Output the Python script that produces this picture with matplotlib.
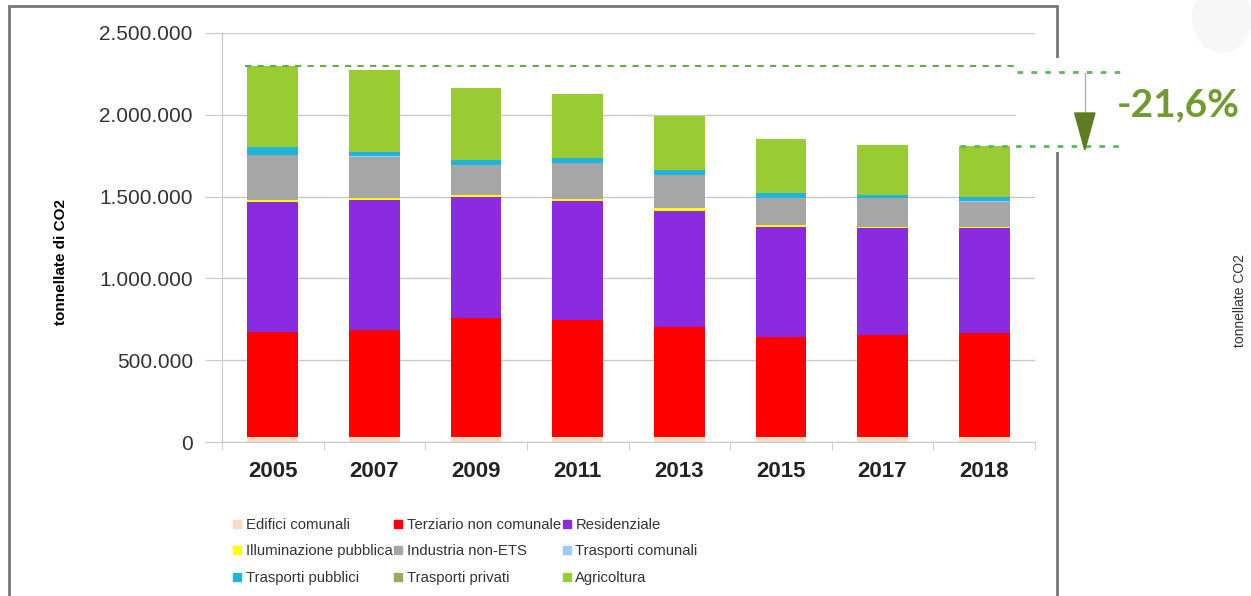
import numpy as np
import matplotlib.pyplot as plt
from matplotlib.patches import Rectangle, Ellipse
from matplotlib.lines import Line2D
from matplotlib.ticker import FuncFormatter, MultipleLocator

plt.rcParams['font.family'] = ['Liberation Sans', 'DejaVu Sans']

years = ['2005', '2007', '2009', '2011', '2013', '2015', '2017', '2018']

# tonnellate di CO2, bottom to top of each stack
edifici_comunali = [30000, 30000, 30000, 30000, 30000, 30000, 30000, 30000]
terziario = [644000, 655000, 726000, 716000, 675000, 614000, 624000, 634000]
residenziale = [795000, 795000, 740000, 727000, 707000, 672000, 652000, 642000]
illuminazione = [12000, 12000, 14000, 14000, 16000, 12000, 10000, 10000]
industria = [273000, 252000, 183000, 216000, 204000, 161000, 175000, 153000]
trasporti_comunali = [2000, 2000, 3000, 3000, 3000, 3000, 3000, 3000]
trasporti_pubblici = [49000, 28000, 28000, 28000, 28000, 28000, 16000, 27000]
trasporti_privati = [0, 0, 0, 0, 0, 0, 0, 0]
agricoltura = [495000, 500000, 438000, 391000, 330000, 330000, 305000, 310000]

series = [
    ('Edifici comunali', edifici_comunali, '#f8dcc0'),
    ('Terziario non comunale', terziario, '#ff0000'),
    ('Residenziale', residenziale, '#8a2be2'),
    ('Illuminazione pubblica', illuminazione, '#ffff00'),
    ('Industria non-ETS', industria, '#a6a6a6'),
    ('Trasporti comunali', trasporti_comunali, '#99ccff'),
    ('Trasporti pubblici', trasporti_pubblici, '#1fb4dc'),
    ('Trasporti privati', trasporti_privati, '#9aab5b'),
    ('Agricoltura', agricoltura, '#99cc33'),
]
riduzione = '-21,6%'

fig = plt.figure(figsize=(12.51, 5.96), dpi=100)
ax = fig.add_axes([222 / 1251, 1 - 442 / 596, 813 / 1251, 409 / 596])
ax.set_zorder(2)

x = np.arange(len(years))
bottom = np.zeros(len(years))
for name, vals, color in series:
    vals = np.array(vals, dtype=float)
    ax.bar(x, vals, 0.5, bottom=bottom, color=color, label=name, zorder=3)
    bottom += vals
totals = bottom

ax.set_xlim(-0.5, len(years) - 0.5)
ax.set_ylim(0, 2500000)
ax.yaxis.set_major_locator(MultipleLocator(500000))
ax.yaxis.set_major_formatter(FuncFormatter(lambda v, p: f'{int(v):,}'.replace(',', '.')))
ax.grid(axis='y', color='#c8c8c8', linewidth=1, zorder=0)
for s in ['top', 'right']:
    ax.spines[s].set_visible(False)
ax.spines['left'].set_color('#c8c8c8')
ax.spines['bottom'].set_color('#c8c8c8')
ax.tick_params(axis='y', length=12, color='#c8c8c8', labelsize=15, labelcolor='#333333', pad=9)
ax.set_xticks(x)
ax.set_xticklabels(years, fontsize=16, fontweight='bold', color='#222222')
ax.tick_params(axis='x', length=0, pad=14)
ax.set_xticks(np.arange(len(years) + 1) - 0.5, minor=True)
ax.tick_params(axis='x', which='minor', length=6, color='#c8c8c8')
ax.set_ylabel('tonnellate di CO2', fontsize=11, fontweight='bold')
ax.yaxis.set_label_coords(-0.19, 0.44)

# legend, 3 per row
hs = [Line2D([], [], marker='s', linestyle='none', markersize=6, color=c) for _, _, c in series]
labs = [n for n, _, _ in series]
order = [0, 3, 6, 1, 4, 7, 2, 5, 8]
fig.legend([hs[i] for i in order], [labs[i] for i in order], ncol=3, frameon=False,
           loc='upper left', bbox_to_anchor=(227 / 1251, 1 - 512 / 596), fontsize=10.7,
           labelcolor='#333333', handlelength=0.6, handletextpad=0.3, columnspacing=0.05,
           labelspacing=0.84, borderaxespad=0)

# outer frame
fig.patches.append(Rectangle((9 / 1251, -0.05), 1048 / 1251, 1 - 6 / 596 + 0.05,
                             transform=fig.transFigure, fill=False, edgecolor='#777777',
                             linewidth=2, zorder=1))
fig.patches.append(Ellipse((1222 / 1251, 1 - 18 / 596), 60 / 1251, 70 / 596,
                           transform=fig.transFigure, facecolor='#f7f7f7', edgecolor='none',
                           zorder=0))
ax.add_patch(Rectangle((1016 / 1251, 1 - 152 / 596), 120 / 1251, 94 / 596,
                       transform=fig.transFigure, facecolor='white', edgecolor='none',
                       zorder=4, clip_on=False))

# riduzione annotation
green = '#5cb85c'
ax.plot([-0.27, 7.32], [totals[0], totals[0]], ls=(0, (3, 3)), color='#6aa84f', lw=1.5,
        clip_on=False, zorder=5)
ax.plot([7.32, 8.39], [totals[0] - 38000, totals[0] - 38000], ls=(0, (2, 3)), color=green,
        lw=2, clip_on=False, zorder=5)
ax.plot([6.76, 8.34], [totals[-1], totals[-1]], ls=(0, (2, 3)), color=green, lw=2,
        clip_on=False, zorder=5)
ax.plot([7.99, 7.99], [2255000, 2000000], color='#b0b0b0', lw=1, clip_on=False, zorder=5)
ax.fill([7.89, 8.09, 7.99], [2011000, 2011000, 1785000], color='#5e7d22', clip_on=False,
        zorder=6)
ax.text(8.91, 2060000, riduzione, ha='center', va='center', fontsize=28, fontweight='bold',
        color='#6f9b30', family=['Lato', 'DejaVu Sans'], clip_on=False, zorder=6)

fig.text(1240 / 1251, 1 - 300 / 596, 'tonnellate CO2', rotation=90, ha='center', va='center',
         fontsize=10, color='#333333', family=['Liberation Sans Narrow', 'Liberation Sans'])

fig.savefig('out.png', dpi=100)
